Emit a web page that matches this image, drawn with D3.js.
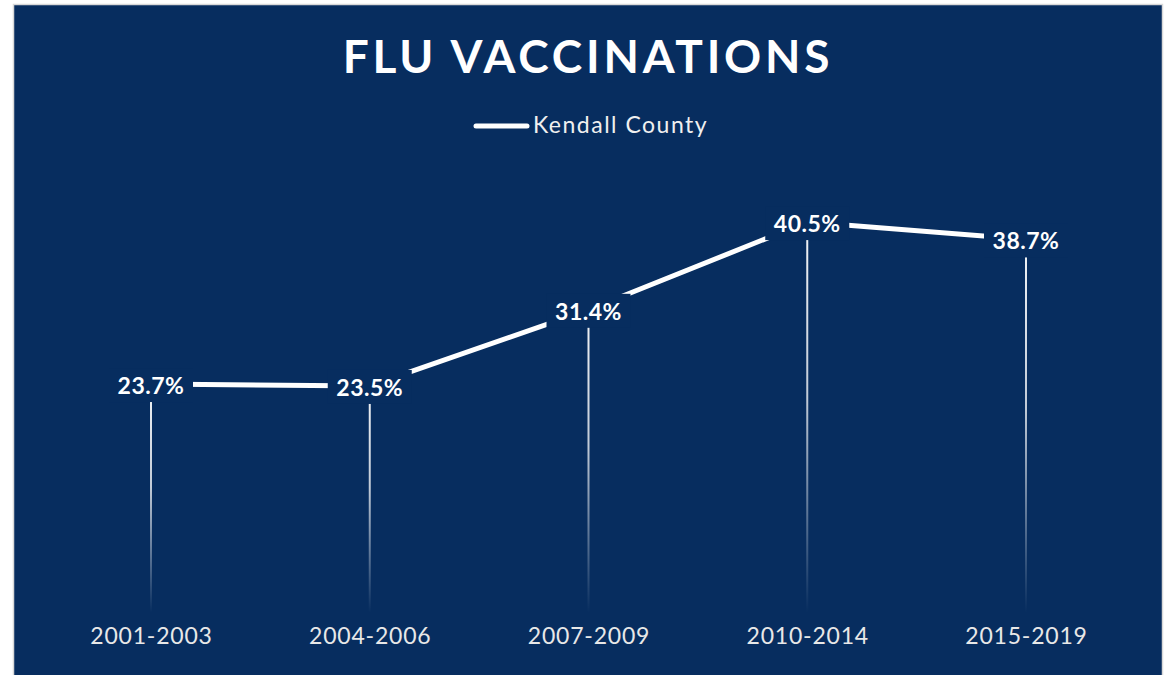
<!DOCTYPE html>
<html><head><meta charset="utf-8">
<script src="https://cdn.jsdelivr.net/npm/d3@7"></script>
<style>html,body{margin:0;padding:0;background:#fff;}svg{display:block;}</style>
</head><body>
<script>
const categories = ["2001-2003","2004-2006","2007-2009","2010-2014","2015-2019"];
const values = [23.7, 23.5, 31.4, 40.5, 38.7];
const seriesName = "Kendall County";
const title = "FLU VACCINATIONS";

const W = 1166, H = 675;
const svg = d3.select("body").append("svg").attr("width", W).attr("height", H);
const defs = svg.append("defs");
const grad = defs.append("linearGradient").attr("id","drop").attr("x1",0).attr("y1",0).attr("x2",0).attr("y2",1);
grad.append("stop").attr("offset","0%").attr("stop-color","#ffffff").attr("stop-opacity",0.95);
grad.append("stop").attr("offset","45%").attr("stop-color","#ffffff").attr("stop-opacity",0.75);
grad.append("stop").attr("offset","100%").attr("stop-color","#ffffff").attr("stop-opacity",0.0);

svg.append("rect").attr("x",13.5).attr("y",4.5).attr("width",1149).attr("height",690)
  .attr("fill","#072D5F").attr("stroke","#d9d9d9").attr("stroke-width",1.5);

const font = "Lato, 'Open Sans', sans-serif";
svg.append("text").attr("x",588).attr("y",73).attr("text-anchor","middle")
  .attr("font-family",font).attr("font-weight",700).attr("font-size",46)
  .attr("letter-spacing",3.8).attr("fill","#ffffff").text(title);

// legend
svg.append("line").attr("x1",476).attr("x2",527).attr("y1",126).attr("y2",126)
  .attr("stroke","#fff").attr("stroke-width",5).attr("stroke-linecap","round");
svg.append("text").attr("x",533).attr("y",133).attr("font-family",font).attr("font-size",23)
  .attr("letter-spacing",1.5).attr("fill","#f0f0f0").text(seriesName);

const x = d3.scalePoint().domain(categories).range([151, 1026]);
const y = d3.scaleLinear().domain([0, 45]).range([612.5, 178.7]);

// x axis labels
const xAxis = d3.axisBottom(x).tickSize(0).tickPadding(0);
const gx = svg.append("g").attr("transform","translate(0,628)").call(xAxis);
gx.select(".domain").remove();
gx.selectAll("text").attr("font-family",font).attr("font-size",23).attr("fill","#e8e8e8")
  .attr("dy","0.71em").attr("letter-spacing",0.8);

// drop lines
svg.append("g").selectAll("rect").data(values).join("rect")
  .attr("x",(d,i)=>x(categories[i])-1).attr("width",2)
  .attr("y",d=>y(d)).attr("height",d=>y(0)-y(d))
  .attr("fill","url(#drop)");

// line
const line = d3.line().x((d,i)=>x(categories[i])).y(d=>y(d));
svg.append("path").datum(values).attr("d",line).attr("fill","none")
  .attr("stroke","#fff").attr("stroke-width",5).attr("stroke-linejoin","round");

// data labels with background
const lab = svg.append("g").selectAll("g").data(values).join("g")
  .attr("transform",(d,i)=>`translate(${x(categories[i])},${y(d)})`);
lab.append("rect").attr("x",-42).attr("y",-16).attr("width",84).attr("height",34).attr("fill","#072D5F");
lab.append("text").attr("text-anchor","middle").attr("y",10)
  .attr("font-family",font).attr("font-weight",700).attr("font-size",23)
  .attr("letter-spacing",0.5).attr("fill","#fff").text(d=>d.toFixed(1)+"%");
</script>
</body></html>
